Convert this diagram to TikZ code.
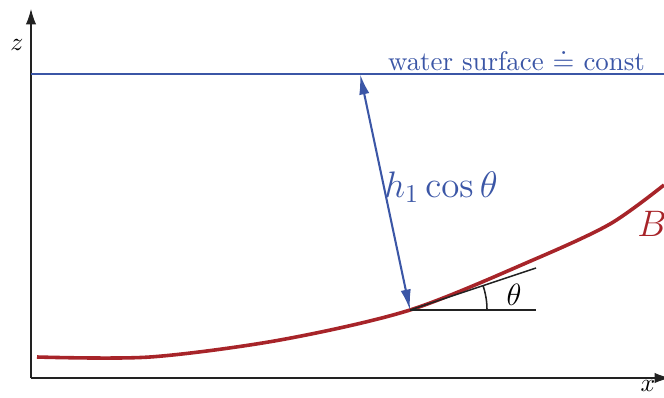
\documentclass[tikz,border=0pt]{standalone}
\usepackage{amsmath}
\usepackage{amssymb}
\usepackage{xcolor}
\usetikzlibrary{arrows.meta, positioning, calc}
\definecolor{wblue}{HTML}{3B56A6}
\definecolor{bred}{HTML}{A72429}
\definecolor{agray}{HTML}{222222}

\begin{document}
\begin{tikzpicture}[x=0.01372cm, y=-0.01372cm,
    axis/.style={agray, thin, -{Latex[length=6pt, width=4pt]}},
    surf/.style={wblue, semithick},
    bed/.style={bred, line width=1.4pt},
    depth/.style={wblue, thick, {Latex[length=8pt, width=4pt]}-{Latex[length=8pt, width=4pt]}},
    slope/.style={agray, semithick}]
  \useasboundingbox (0,0) rectangle (664,397);

  % Axes
  \coordinate (O) at (31,378);
  \coordinate (zend) at (31,9);
  \coordinate (xend) at (670,378);
  \draw[axis] (O) -- (zend);
  \draw[axis] (O) -- (xend);
  \node (zlab) at (17,45) {$z$};
  \node (xlab) at (648,386) {$x$};

  % Water surface
  \coordinate (wl) at (31,74);
  \coordinate (wr) at (664,74);
  \draw[surf] (wl) -- (wr);
  \node[wblue, anchor=south east, inner sep=1pt, font=\fontsize{10.5}{12}\selectfont]
    (wlab) at (648,74) {water surface $\doteq$ const};

  % Bed
  \coordinate (foot) at (410,310);
  \draw[bed] plot[smooth] coordinates {
    (37,357) (150,357) (280,340) (410,310) (533,260) (610,224) (664,185)};
  \node[bred, font=\Large] (blab) at (652,224) {$B$};

  % Slope angle
  \coordinate (tang) at (536,268);
  \coordinate (horz) at (536,310);
  \draw[slope] (foot) -- (tang);
  \draw[slope] (foot) -- (horz);
  \draw[slope] ($(foot)+(77,0)$) arc[start angle=0, end angle=18.4, radius=1.056cm];
  \node[font=\large] (thlab) at (514,295) {$\theta$};

  % Depth
  \coordinate (top) at (360,74);
  \draw[depth] (top) -- (foot);
  \node[wblue, font=\Large] (hlab) at (441,187) {$h_1\cos\theta$};
\end{tikzpicture}
\end{document}
